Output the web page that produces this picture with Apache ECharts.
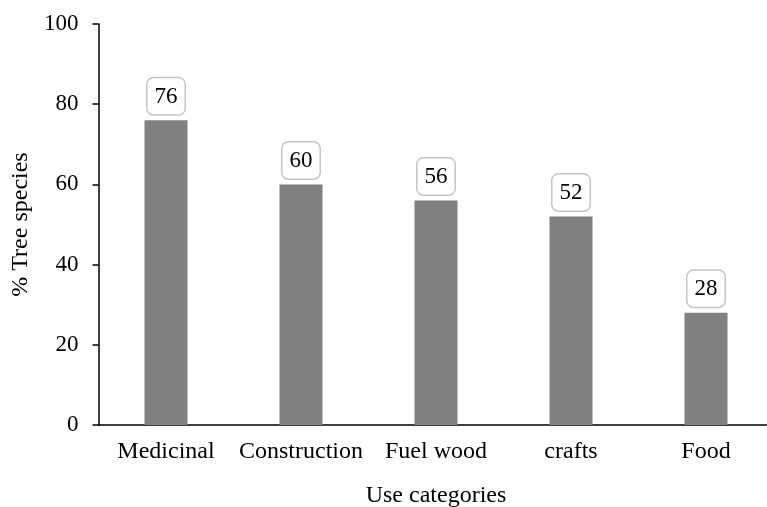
<!DOCTYPE html>
<html>
<head>
<meta charset="utf-8">
<script src="https://cdn.jsdelivr.net/npm/echarts@6/dist/echarts.min.js"></script>
<style>
  html, body { margin: 0; padding: 0; background: #fff; }
  #main { width: 767px; height: 507px; }
</style>
</head>
<body>
<div id="main"></div>
<script>
// categories and values
var categories = ['Medicinal', 'Construction', 'Fuel wood', 'crafts', 'Food'];
var treeSpecies = [76, 60, 56, 52, 28];
var yTicks = [0, 20, 40, 60, 80, 100];

var font = 'Liberation Serif';
var myChart = echarts.init(document.getElementById('main'));

myChart.setOption({
    animation: false,
    grid: { left: 98.5, top: 24, width: 675, height: 401, containLabel: false, outerBoundsMode: 'none' },
    xAxis: {
        type: 'category',
        data: categories,
        name: 'Use categories',
        nameLocation: 'middle',
        nameGap: 59,
        nameTextStyle: { fontFamily: font, fontSize: 24, color: '#000' },
        axisLine: { lineStyle: { color: '#000', width: 1.5 } },
        axisTick: { alignWithLabel: false, length: 6, lineStyle: { color: '#000', width: 1.5 } },
        axisLabel: { interval: 0, hideOverlap: false, fontFamily: font, fontSize: 24, color: '#000', margin: 15 }
    },
    yAxis: {
        type: 'value',
        min: yTicks[0],
        max: yTicks[yTicks.length - 1],
        interval: 20,
        name: '% Tree species',
        nameLocation: 'middle',
        nameGap: 61,
        nameTextStyle: { fontFamily: font, fontSize: 24, color: '#000' },
        axisLine: { show: true, lineStyle: { color: '#000', width: 1.5 } },
        axisTick: { show: true, length: 6, lineStyle: { color: '#000', width: 1.5 } },
        axisLabel: { fontFamily: font, fontSize: 23, color: '#000', margin: 20 },
        splitLine: { show: false }
    },
    series: [{
        type: 'bar',
        data: treeSpecies,
        barWidth: 43,
        itemStyle: { color: '#808080' },
        label: {
            show: true,
            position: 'top',
            distance: 6,
            fontFamily: font,
            fontSize: 23,
            color: '#000',
            backgroundColor: '#fff',
            borderColor: '#c4c4c4',
            borderWidth: 1.5,
            borderRadius: 6,
            padding: [7, 7, 6, 7]
        }
    }]
});
</script>
</body>
</html>
